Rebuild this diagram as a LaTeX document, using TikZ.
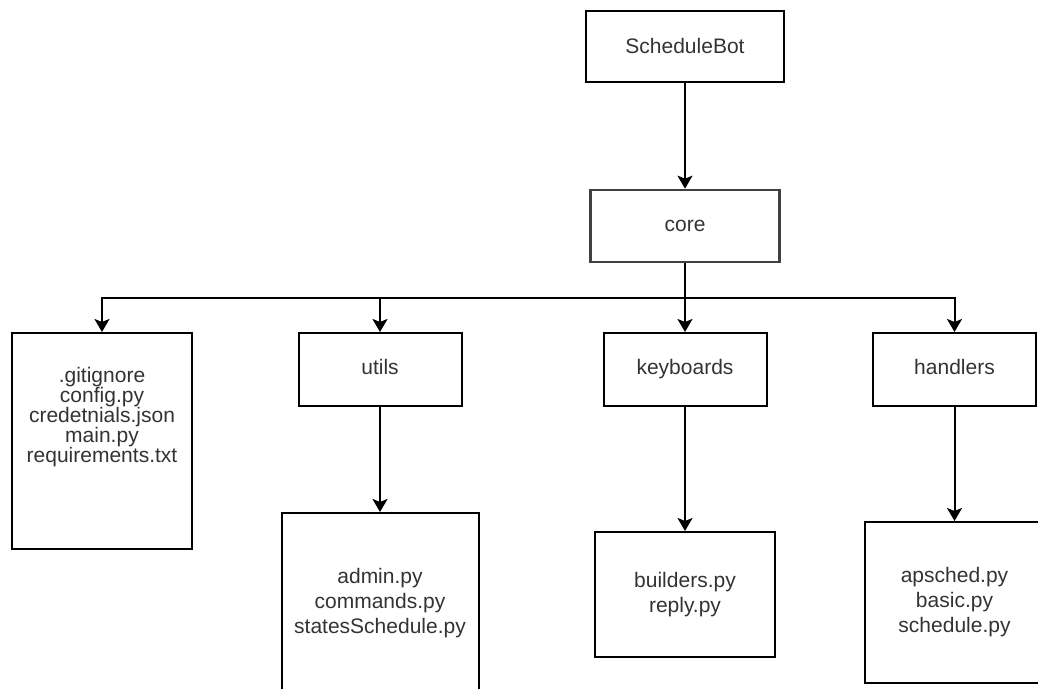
\documentclass[tikz,border=0pt]{standalone}
\usepackage{fontspec}
\setmainfont{Liberation Sans}
\usetikzlibrary{positioning,arrows.meta}

\begin{document}
\begin{tikzpicture}[
  x=0.5pt,y=-0.5pt,
  font=\fontsize{10.5}{12.5}\selectfont,
  box/.style={draw,line width=1pt,rectangle,text=black!80,align=center,inner sep=0pt},
  folder/.style={box,minimum width=81.5pt,minimum height=36.5pt,text height=7.6pt,text depth=2.2pt},
  listing/.style={box,minimum width=90pt},
  every edge/.style={draw,line width=1pt,-{Stealth[length=6.5pt,width=7.5pt,inset=1.5pt]}},
  link/.style={line width=1pt,-{Stealth[length=6.5pt,width=7.5pt,inset=1.5pt]}},
]
  \useasboundingbox (0,0) rectangle (1038,689);

  % Top layer
  \node[box,minimum width=99pt,minimum height=35.5pt] (bot) at (685,46.5) {ScheduleBot};
  \node[box,draw=black!75,line width=1.3pt,minimum width=94.5pt,minimum height=36pt] (core) at (685,226) {core};
  \coordinate (split) at (685,298);

  % Folder layer
  \node[listing,minimum height=108pt] (files) at (102,441) {};
  \node[text=black!80,align=center,font=\fontsize{10.5}{10}\selectfont] (filenames) at (102,417)
    {.gitignore\\config.py\\credetnials.json\\main.py\\requirements.txt};
  \node[folder] (utils) at (380,369.5) {utils};
  \node[folder] (keyboards) at (685,369.5) {keyboards};
  \node[folder] (handlers) at (954.5,369.5) {handlers};

  % File layer
  \node[listing,minimum width=98.5pt,minimum height=90pt] (utilsfiles) at (380,603)
    {admin.py\\commands.py\\statesSchedule.py};
  \node[listing,minimum height=62.5pt] (kbfiles) at (685,594.5)
    {builders.py\\reply.py};
  \node[listing,minimum height=80.5pt] (handfiles) at (954.5,602.5)
    {apsched.py\\basic.py\\schedule.py};

  % Edges: top
  \path (bot) edge (core);
  \draw[line width=1pt] (core) -- (split);

  % Edges: folders
  \draw[link] (split) -| (files);
  \draw[link] (split) -| (utils);
  \draw[link] (split) -- (keyboards);
  \draw[link] (split) -| (handlers);

  % Edges: files
  \path (utils) edge (utilsfiles);
  \path (keyboards) edge (kbfiles);
  \path (handlers) edge (handfiles);
\end{tikzpicture}
\end{document}
